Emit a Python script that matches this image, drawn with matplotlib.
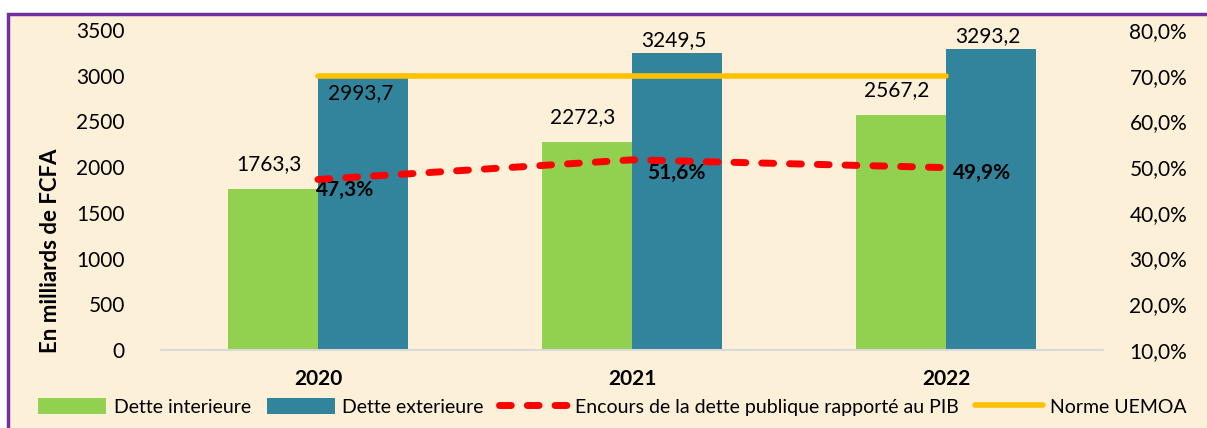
import numpy as np
import matplotlib.pyplot as plt
from matplotlib.patches import Rectangle

plt.rcParams['font.family'] = ['Lato', 'DejaVu Sans']

years = ['2020', '2021', '2022']
dette_int = [1763.3, 2272.3, 2567.2]
dette_ext = [2993.7, 3249.5, 3293.2]
encours_pib = [47.3, 51.6, 49.9]
norme = [70.0, 70.0, 70.0]

def fr(v, d=1):
    return '{:.{}f}'.format(v, d).replace('.', ',')

fig = plt.figure(figsize=(12.07, 4.28), dpi=100, facecolor='white')
# cream panel with purple border
fig.patches.append(Rectangle((8 / 1207, -0.05), 1.1, 1 - 14 / 428 + 0.05,
                             transform=fig.transFigure, facecolor='#FCF0D9',
                             edgecolor='#7030A0', linewidth=2.5, zorder=-10))

ax = fig.add_axes([161 / 1207, 1 - 350 / 428, 942 / 1207, 320 / 428])
ax.set_facecolor('none')
x = np.arange(len(years))
w = 0.287
b1 = ax.bar(x - w / 2, dette_int, w, color='#92D050', label='Dette interieure', zorder=2)
b2 = ax.bar(x + w / 2, dette_ext, w, color='#31849B', label='Dette exterieure', zorder=2)
ax.set_xlim(-0.5, 2.5)
ax.set_ylim(0, 3500)
ax.set_yticks(np.arange(0, 3501, 500))
ax.set_xticks(x)
ax.set_xticklabels(years, fontweight='bold', fontsize=15)
for s in ['top', 'right', 'left']:
    ax.spines[s].set_visible(False)
ax.spines['bottom'].set_color('#D9D9D9')
ax.spines['bottom'].set_linewidth(1.5)
ax.tick_params(axis='y', length=0, labelsize=15, pad=26)
ax.tick_params(axis='x', length=0, pad=14)
ax.set_ylabel('En milliards de FCFA', fontweight='bold', fontsize=16)
ax.yaxis.set_label_coords(-0.106, 0.31)

# label offsets (points) above / below bar tops
int_offsets = [18, 18, 18]
ext_offsets = [-12, 9, 9]
for xi, v, o in zip(x, dette_int, int_offsets):
    ax.annotate(fr(v), (xi - w / 2, v), xytext=(-3, o), textcoords='offset points',
                ha='center', va='center', fontsize=15)
for xi, v, o in zip(x, dette_ext, ext_offsets):
    ax.annotate(fr(v), (xi + w / 2, v), xytext=(-2, o), textcoords='offset points',
                ha='center', va='center', fontsize=15)

ax2 = ax.twinx()
ax2.set_ylim(10, 80)
ax2.set_yticks(np.arange(10, 81, 10))
ax2.set_yticklabels([fr(t) + '%' for t in np.arange(10, 81, 10)])
for s in ['top', 'right', 'left', 'bottom']:
    ax2.spines[s].set_visible(False)
ax2.tick_params(axis='y', length=0, labelsize=15, pad=19)
l1, = ax2.plot(x, encours_pib, color='#FF0000', linestyle=(0, (1.7, 2.3)), linewidth=5,
               solid_capstyle='round', dash_capstyle='round',
               label='Encours de la dette publique rapporté au PIB', zorder=4)
l2, = ax2.plot(x, norme, color='#FFC000', linewidth=4, solid_capstyle='round',
               label='Norme UEMOA', zorder=3)
pct_offsets = [(-1.5, -7.6), (10.8, -9.4), (5, -3.6)]
for xi, v, (dx, dy) in zip(x, encours_pib, pct_offsets):
    ax2.annotate(fr(v) + '%', (xi, v), xytext=(dx, dy), textcoords='offset points',
                 ha='left', va='center', fontsize=15, fontweight='bold')

fig.legend(handles=[b1, b2, l1, l2], loc='center', bbox_to_anchor=(0.5075, 1 - 407 / 428),
           ncol=4, frameon=False, fontsize=14, handlelength=3.5, handleheight=0.9,
           columnspacing=0.8, handletextpad=0.4)

fig.savefig('out.png', dpi=100, facecolor=fig.get_facecolor())
